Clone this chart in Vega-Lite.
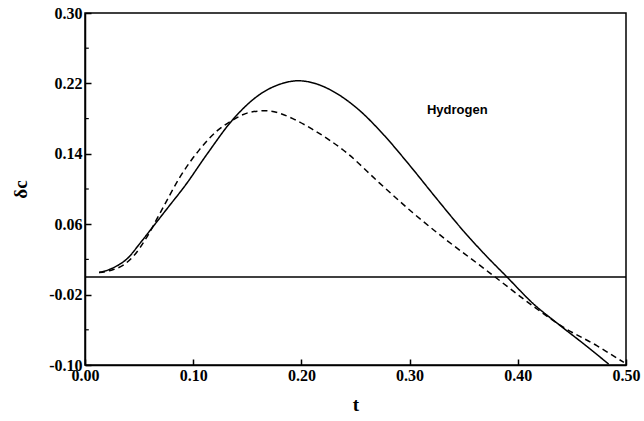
{
  "$schema": "https://vega.github.io/schema/vega-lite/v6.json",
  "width": 541,
  "height": 352,
  "autosize": "none",
  "padding": {"left": 85, "top": 13, "right": 18, "bottom": 56},
  "background": "white",
  "config": {
    "view": {"stroke": "black", "strokeWidth": 1.5},
    "axis": {
      "grid": false,
      "domainColor": "black",
      "domainWidth": 1.5,
      "tickColor": "black",
      "tickWidth": 1.5,
      "tickSize": -6,
      "labelFont": "Liberation Serif",
      "labelFontWeight": "bold",
      "labelFontSize": 16,
      "labelColor": "black",
      "titleFont": "Liberation Serif",
      "titleFontWeight": "bold",
      "titleFontSize": 19,
      "titleColor": "black"
    }
  },
  "datasets": {
    "curves": [
      {"t": 0.013, "v": 0.005, "s": "solid"},
      {"t": 0.027, "v": 0.011, "s": "solid"},
      {"t": 0.040, "v": 0.022, "s": "solid"},
      {"t": 0.050, "v": 0.037, "s": "solid"},
      {"t": 0.064, "v": 0.059, "s": "solid"},
      {"t": 0.078, "v": 0.081, "s": "solid"},
      {"t": 0.092, "v": 0.103, "s": "solid"},
      {"t": 0.113, "v": 0.140, "s": "solid"},
      {"t": 0.136, "v": 0.178, "s": "solid"},
      {"t": 0.161, "v": 0.207, "s": "solid"},
      {"t": 0.180, "v": 0.219, "s": "solid"},
      {"t": 0.197, "v": 0.223, "s": "solid"},
      {"t": 0.215, "v": 0.219, "s": "solid"},
      {"t": 0.232, "v": 0.209, "s": "solid"},
      {"t": 0.254, "v": 0.189, "s": "solid"},
      {"t": 0.275, "v": 0.163, "s": "solid"},
      {"t": 0.300, "v": 0.127, "s": "solid"},
      {"t": 0.325, "v": 0.089, "s": "solid"},
      {"t": 0.350, "v": 0.052, "s": "solid"},
      {"t": 0.370, "v": 0.025, "s": "solid"},
      {"t": 0.390, "v": 0.000, "s": "solid"},
      {"t": 0.414, "v": -0.030, "s": "solid"},
      {"t": 0.439, "v": -0.055, "s": "solid"},
      {"t": 0.464, "v": -0.079, "s": "solid"},
      {"t": 0.484, "v": -0.099, "s": "solid"},
      {"t": 0.013, "v": 0.005, "s": "dashed"},
      {"t": 0.025, "v": 0.008, "s": "dashed"},
      {"t": 0.036, "v": 0.014, "s": "dashed"},
      {"t": 0.045, "v": 0.024, "s": "dashed"},
      {"t": 0.057, "v": 0.045, "s": "dashed"},
      {"t": 0.070, "v": 0.074, "s": "dashed"},
      {"t": 0.088, "v": 0.114, "s": "dashed"},
      {"t": 0.106, "v": 0.145, "s": "dashed"},
      {"t": 0.122, "v": 0.166, "s": "dashed"},
      {"t": 0.136, "v": 0.178, "s": "dashed"},
      {"t": 0.152, "v": 0.187, "s": "dashed"},
      {"t": 0.167, "v": 0.189, "s": "dashed"},
      {"t": 0.180, "v": 0.186, "s": "dashed"},
      {"t": 0.192, "v": 0.180, "s": "dashed"},
      {"t": 0.210, "v": 0.168, "s": "dashed"},
      {"t": 0.242, "v": 0.141, "s": "dashed"},
      {"t": 0.272, "v": 0.107, "s": "dashed"},
      {"t": 0.303, "v": 0.073, "s": "dashed"},
      {"t": 0.334, "v": 0.042, "s": "dashed"},
      {"t": 0.362, "v": 0.016, "s": "dashed"},
      {"t": 0.379, "v": 0.000, "s": "dashed"},
      {"t": 0.414, "v": -0.033, "s": "dashed"},
      {"t": 0.442, "v": -0.057, "s": "dashed"},
      {"t": 0.473, "v": -0.078, "s": "dashed"},
      {"t": 0.494, "v": -0.094, "s": "dashed"},
      {"t": 0.498, "v": -0.097, "s": "dashed"}
    ],
    "labels": [{"t": 0.316, "v": 0.19, "label": "Hydrogen"}],
    "minor": [{"m": 0.26}, {"m": 0.18}, {"m": 0.10}, {"m": 0.02}, {"m": -0.06}]
  },
  "layer": [
    {
      "data": {"values": [{}]},
      "mark": {"type": "rule", "color": "black", "strokeWidth": 1.5},
      "encoding": {
        "y": {"datum": 0, "type": "quantitative", "scale": {"domain": [-0.10, 0.30], "nice": false, "zero": false}},
        "x": {"datum": 0, "type": "quantitative"},
        "x2": {"datum": 0.5}
      }
    },
    {
      "data": {"name": "minor"},
      "mark": {"type": "rule", "color": "black", "strokeWidth": 1.2},
      "encoding": {
        "y": {"field": "m", "type": "quantitative"},
        "x": {"datum": 0, "type": "quantitative"},
        "x2": {"datum": 0.0035}
      }
    },
    {
      "data": {"name": "curves"},
      "mark": {"type": "line", "color": "black", "strokeWidth": 1.5, "interpolate": "monotone", "clip": true},
      "encoding": {
        "x": {
          "field": "t", "type": "quantitative",
          "scale": {"domain": [0, 0.5], "nice": false, "zero": false},
          "axis": {"values": [0, 0.1, 0.2, 0.3, 0.4, 0.5], "format": ".2f", "title": "t", "labelPadding": 8, "titlePadding": 12, "labelFlush": false}
        },
        "y": {
          "field": "v", "type": "quantitative",
          "scale": {"domain": [-0.10, 0.30], "nice": false, "zero": false},
          "axis": {
            "values": [-0.10, -0.02, 0.06, 0.14, 0.22, 0.30],
            "labelExpr": "datum.value < 0 ? '-' + format(-datum.value, '.2f') : format(datum.value, '.2f')",
            "title": "δc", "labelPadding": 9, "titlePadding": 18, "labelFlush": false
          }
        },
        "detail": {"field": "s"},
        "strokeDash": {
          "field": "s", "type": "nominal",
          "scale": {"domain": ["solid", "dashed"], "range": [[1, 0], [6, 4]]},
          "legend": null
        }
      }
    },
    {
      "data": {"name": "labels"},
      "mark": {"type": "text", "align": "left", "baseline": "middle", "font": "Liberation Sans", "fontWeight": "bold", "fontSize": 13, "color": "black"},
      "encoding": {
        "x": {"field": "t", "type": "quantitative"},
        "y": {"field": "v", "type": "quantitative"},
        "text": {"field": "label"}
      }
    }
  ]
}
